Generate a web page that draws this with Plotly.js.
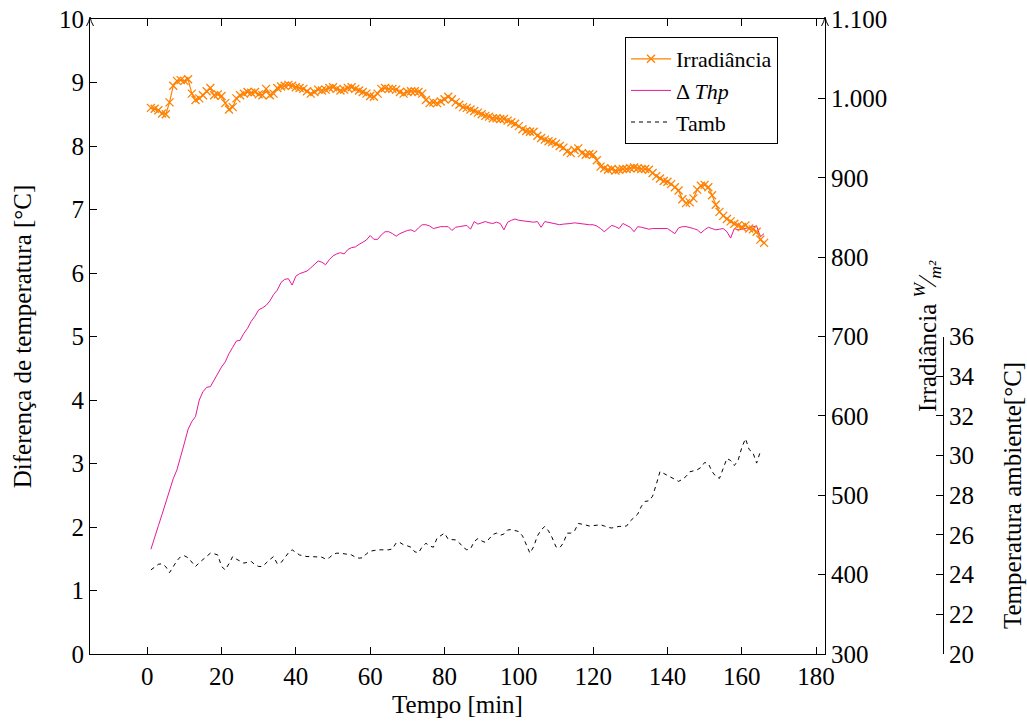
<!DOCTYPE html>
<html>
<head>
<meta charset="utf-8">
<script src="https://cdn.plot.ly/plotly-3.0.1.min.js"></script>
<style>html,body{margin:0;padding:0;background:#fff;}#chart{width:1027px;height:724px;}</style>
</head>
<body>
<div id="chart"></div>
<script>
// ---- data ----
const tempo = [1,2,3,4,5,6,7,8,9,10,11,12,13,14,15,16,17,18,19,20,21,22,23,24,25,26,27,28,29,30,
31,32,33,34,35,36,37,38,39,40,41,42,43,44,45,46,47,48,49,50,51,52,53,54,55,56,57,58,59,60,
61,62,63,64,65,66,67,68,69,70,71,72,73,74,75,76,77,78,79,80,81,82,83,84,85,86,87,88,89,90,
91,92,93,94,95,96,97,98,99,100,101,102,103,104,105,106,107,108,109,110,111,112,113,114,115,116,117,118,119,120,
121,122,123,124,125,126,127,128,129,130,131,132,133,134,135,136,137,138,139,140,141,142,143,144,145,146,147,148,149,150,
151,152,153,154,155,156,157,158,159,160,161,162,163,164,165,166];

const irradiancia = [988,987,985,981,980,995,1016,1022,1023,1022,
1024,1006,998,1000,1004,1009,1013,1004,1005,1003,
994,986,989,1000,1004,1006,1008,1007,1008,1005,
1004,1012,1004,1006,1013,1015,1016,1017,1016,1014,
1013,1012,1009,1006,1008,1011,1010,1011,1013,1014,
1012,1010,1011,1013,1014,1012,1010,1008,1006,1003,
1002,1006,1012,1013,1012,1012,1011,1008,1006,1008,
1009,1009,1008,1006,998,994,995,994,996,999,
1002,999,995,992,989,988,986,984,982,980,
978,977,975,975,974,974,972,970,968,965,
961,959,958,958,953,950,948,946,945,943,
940,938,933,931,935,937,931,929,930,929,
922,914,912,910,911,909,910,911,911,912,
913,912,911,911,910,906,902,899,896,895,
892,888,884,873,868,869,874,885,890,891,
888,878,866,857,852,848,845,842,840,838,
840,836,835,832,822,818];

const deltaThp = [1.65,1.85,2.02,2.20,2.38,2.58,2.76,2.90,3.13,3.32,
3.54,3.66,3.74,4.00,4.13,4.20,4.21,4.32,4.42,4.52,
4.60,4.73,4.83,4.93,4.94,5.05,5.13,5.24,5.32,5.42,
5.45,5.49,5.56,5.66,5.73,5.85,5.90,5.91,5.81,5.95,
5.99,6.01,6.03,6.08,6.13,6.19,6.17,6.13,6.21,6.27,
6.30,6.32,6.30,6.37,6.40,6.41,6.45,6.48,6.52,6.59,
6.53,6.53,6.60,6.65,6.65,6.62,6.58,6.62,6.65,6.67,
6.68,6.65,6.71,6.76,6.76,6.74,6.70,6.72,6.73,6.73,
6.73,6.67,6.72,6.73,6.74,6.75,6.69,6.81,6.77,6.79,
6.81,6.79,6.78,6.80,6.78,6.68,6.80,6.83,6.85,6.83,
6.82,6.81,6.80,6.80,6.81,6.72,6.81,6.80,6.78,6.77,
6.76,6.77,6.77,6.78,6.79,6.78,6.77,6.77,6.76,6.76,
6.74,6.70,6.65,6.70,6.75,6.73,6.70,6.78,6.75,6.72,
6.65,6.73,6.72,6.70,6.69,6.70,6.70,6.70,6.70,6.70,
6.66,6.62,6.71,6.73,6.73,6.72,6.70,6.68,6.63,6.68,
6.72,6.70,6.68,6.69,6.70,6.65,6.55,6.70,6.68,6.69,
6.70,6.72,6.73,6.74,6.57,6.62];

const tamb = [24.24,24.40,24.52,24.55,24.40,24.10,24.40,24.70,24.91,24.95,
24.85,24.60,24.41,24.60,24.76,24.95,25.08,25.05,24.99,24.41,
24.24,24.55,24.91,24.78,24.70,24.58,24.62,24.66,24.50,24.41,
24.41,24.60,24.76,24.91,24.55,24.60,24.85,25.10,25.25,25.10,
24.99,24.95,24.91,24.91,24.91,24.91,24.88,24.78,24.85,25.02,
25.08,25.08,25.05,25.02,24.99,24.88,24.83,24.85,25.05,25.18,
25.22,25.25,25.25,25.25,25.25,25.30,25.60,25.62,25.50,25.45,
25.38,25.15,25.10,25.40,25.58,25.45,25.38,25.84,25.98,26.09,
25.78,25.75,25.75,25.60,25.38,25.25,25.30,25.67,25.82,25.70,
25.62,25.80,26.02,26.09,25.98,26.05,26.25,26.27,26.22,26.17,
25.95,25.55,25.08,25.41,25.95,26.25,26.43,26.20,25.85,25.40,
25.35,25.60,26.09,26.09,26.20,26.58,26.55,26.50,26.45,26.48,
26.51,26.51,26.45,26.38,26.35,26.40,26.43,26.43,26.45,26.70,
26.88,27.05,27.45,27.69,27.72,27.95,28.55,29.20,29.10,29.00,
28.92,28.82,28.70,28.80,28.95,29.18,29.25,29.28,29.40,29.65,
29.60,29.20,28.95,28.85,29.35,29.85,29.75,29.50,29.75,30.40,
30.85,30.30,30.15,29.62,30.20];

const xTicks = [0,20,40,60,80,100,120,140,160,180];
const irrTickVals = [300,400,500,600,700,800,900,1000,1100];
const irrTickText = ['300','400','500','600','700','800','900','1.000','1.100'];
const tempTicks = [20,22,24,26,28,30,32,34,36];

// ---- styling ----
const FONT = '"Liberation Serif", "Times New Roman", serif';
const FS = 25;
const ORANGE = '#ff8000';
const MAGENTA = '#e8179a';

const traces = [
  {
    x: tempo, y: irradiancia, yaxis: 'y2', name: 'Irradiância',
    type: 'scatter', mode: 'lines+markers',
    line: {color: ORANGE, width: 1.2},
    marker: {symbol: 'x-thin', size: 8, color: ORANGE, line: {color: ORANGE, width: 1.3}}
  },
  {
    x: tempo, y: deltaThp, yaxis: 'y', name: 'Δ <i>Thp</i>',
    type: 'scatter', mode: 'lines',
    line: {color: MAGENTA, width: 1}
  },
  {
    x: tempo.slice(0, tamb.length), y: tamb, yaxis: 'y3', name: 'Tamb',
    type: 'scatter', mode: 'lines',
    line: {color: '#000', width: 1, dash: '4px,4px'}
  }
];

const W = 1027, H = 724;
const L = 90, R = 20, T = 19, B = 70;
const plotW = W - L - R;
const plotH = H - T - B;
const xEnd = (825 - L) / plotW;

function arrowHead(xp) {
  return {
    type: 'path', xref: 'paper', yref: 'paper',
    xsizemode: 'pixel', ysizemode: 'pixel', xanchor: xp, yanchor: 1,
    path: 'M -3.5 -7 Q -1 -3 0 2 Q 1 -3 3.5 -7',
    line: {color: '#000', width: 1}, fillcolor: 'rgba(0,0,0,0)'
  };
}

const layout = {
  width: W, height: H,
  margin: {l: L, r: R, t: T, b: B, pad: 0},
  paper_bgcolor: '#fff', plot_bgcolor: 'rgba(0,0,0,0)',
  font: {family: FONT, size: FS, color: '#000'},
  showlegend: true,
  separators: ',.',
  legend: {
    x: (625 - L) / plotW, y: (654 - 37) / plotH, xanchor: 'left', yanchor: 'top',
    bgcolor: '#fff', bordercolor: '#000', borderwidth: 1,
    font: {family: FONT, size: 22}, tracegroupgap: 0, itemwidth: 40
  },
  xaxis: {
    domain: [0, xEnd], range: [-15.4, 182.4],
    tickvals: xTicks, ticks: 'inside', ticklen: 7, tickcolor: '#000',
    showline: true, linecolor: '#000', linewidth: 1, mirror: 'ticks',
    showgrid: false, zeroline: false,
    title: {text: 'Tempo [min]', standoff: 6, font: {family: FONT, size: FS}}
  },
  yaxis: {
    range: [0, 10], dtick: 1, ticks: 'inside', ticklen: 7, tickcolor: '#000',
    showline: true, linecolor: '#000', linewidth: 1,
    showgrid: false, zeroline: false,
    title: {text: 'Diferença de temperatura [°C]', standoff: 20, font: {family: FONT, size: FS}}
  },
  yaxis2: {
    overlaying: 'y', side: 'right', anchor: 'x',
    range: [300, 1100], tickvals: irrTickVals, ticktext: irrTickText,
    ticks: 'inside', ticklen: 7, tickcolor: '#000',
    showline: true, linecolor: '#000', linewidth: 1,
    showgrid: false, zeroline: false
  },
  yaxis3: {
    domain: [0, 0.5], anchor: 'free', position: (943 - L) / plotW, side: 'right',
    range: [20, 36], tickvals: tempTicks,
    ticks: 'inside', ticklen: 7, tickcolor: '#000',
    showline: true, linecolor: '#000', linewidth: 1,
    showgrid: false, zeroline: false
  },
  shapes: [arrowHead(0), arrowHead(xEnd)],
  annotations: [
    {xref: 'paper', yref: 'paper', x: (927 - L) / plotW, y: (654 - 336) / plotH,
     text: 'Irradiância <i><sup>W</sup>⁄<sub>m²</sub></i>', textangle: -90, showarrow: false,
     font: {family: FONT, size: FS}, xanchor: 'center', yanchor: 'middle'},
    {xref: 'paper', yref: 'paper', x: (1012 - L) / plotW, y: (654 - 495) / plotH,
     text: 'Temperatura ambiente[°C]', textangle: -90, showarrow: false,
     font: {family: FONT, size: FS}, xanchor: 'center', yanchor: 'middle'}
  ]
};

Plotly.newPlot('chart', traces, layout, {displayModeBar: false, staticPlot: true});
</script>
</body>
</html>
